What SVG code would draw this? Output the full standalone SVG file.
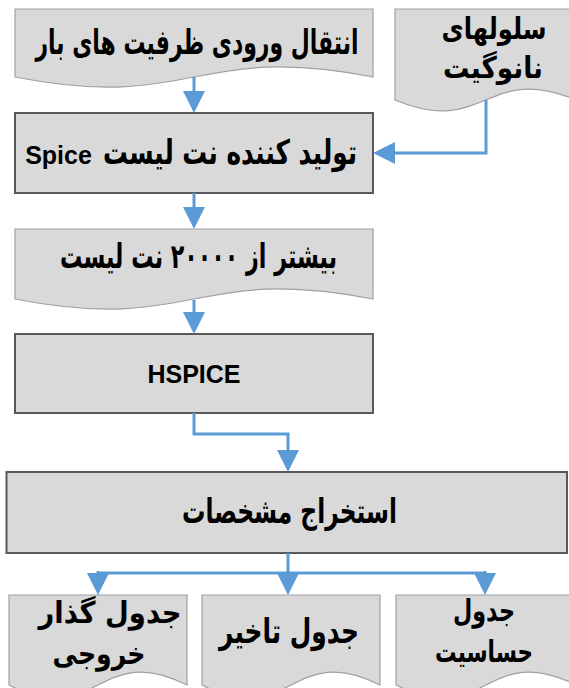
<svg xmlns="http://www.w3.org/2000/svg" width="569" height="688" viewBox="0 0 569 688">
  <style>
    .doc { fill: #d9d9d9; stroke: #a0a0a0; stroke-width: 1.2; }
    .box { fill: #d9d9d9; stroke: #595959; stroke-width: 2; }
    .fa { font-family: "DejaVu Sans", "Noto Sans", sans-serif; font-weight: bold; font-size: 34px; fill: #000; text-anchor: middle; direction: rtl; }
    .fa2 { font-size: 30px; }
    .lat { font-family: "Liberation Sans", Arial, sans-serif; font-weight: bold; font-size: 25px; fill: #000; text-anchor: middle; }
    .conn { fill: none; stroke: #5b9bd5; stroke-width: 3; marker-end: url(#arrow); }
    .plain { fill: none; stroke: #5b9bd5; stroke-width: 3; }
  </style>
  <defs>
    <marker id="arrow" markerUnits="userSpaceOnUse" markerWidth="22" markerHeight="22" viewBox="0 0 22 22" refX="0" refY="11" orient="auto" overflow="visible">
      <path d="M0,0 L22,11 L0,22 Z" fill="#5b9bd5"/>
    </marker>
  </defs>
  <rect width="569" height="688" fill="#ffffff"/>

  <g id="load-input">
    <path class="doc" d="M15,9 H373 V77 C194,42 194,112 15,77 Z"/>
    <text class="fa" x="197" y="54" textLength="323" lengthAdjust="spacingAndGlyphs">انتقال ورودی ظرفیت های بار</text>
  </g>

  <g id="nanogate-cells">
    <path class="doc" d="M395,9 H576 V100 C485.5,62 485.5,138 395,100 Z"/>
    <text class="fa fa2" x="494" y="39" textLength="105" lengthAdjust="spacingAndGlyphs">سلولهای</text>
    <text class="fa fa2" x="493" y="78" textLength="100" lengthAdjust="spacingAndGlyphs">نانوگیت</text>
  </g>

  <g id="spice-generator">
    <rect class="box" x="15" y="113" width="358" height="80"/>
    <text class="fa" y="164"><tspan x="230" textLength="254" lengthAdjust="spacingAndGlyphs">تولید کننده نت لیست</tspan><tspan x="62" font-family="Liberation Sans, Arial, sans-serif" font-size="25"> Spice</tspan></text>
  </g>

  <g id="netlists">
    <path class="doc" d="M15,229 H373 V299 C194,264 194,334 15,299 Z"/>
    <text class="fa" x="198.5" y="268" textLength="277" lengthAdjust="spacingAndGlyphs">بیشتر از ۲۰۰۰۰ نت لیست</text>
  </g>

  <g id="hspice">
    <rect class="box" x="15" y="334" width="358" height="79"/>
    <text class="lat" x="194" y="383">HSPICE</text>
  </g>

  <g id="extract">
    <rect class="box" x="6.5" y="472" width="560.5" height="81"/>
    <text class="fa" x="289.5" y="523" textLength="215" lengthAdjust="spacingAndGlyphs">استخراج مشخصات</text>
  </g>

  <g id="output-transition">
    <path class="doc" d="M9,595 H187 V685 C98,640 98,730 9,685 Z"/>
    <text class="fa fa2" x="110" y="623" textLength="143" lengthAdjust="spacingAndGlyphs">جدول گذار</text>
    <text class="fa fa2" x="99" y="664" textLength="93" lengthAdjust="spacingAndGlyphs">خروجی</text>
  </g>

  <g id="delay-table">
    <path class="doc" d="M202,595 H380 V685 C291,640 291,730 202,685 Z"/>
    <text class="fa" x="289" y="643" textLength="140" lengthAdjust="spacingAndGlyphs">جدول تاخیر</text>
  </g>

  <g id="sensitivity-table">
    <path class="doc" d="M396,595 H576 V685 C486,640 486,730 396,685 Z"/>
    <text class="fa fa2" x="484" y="621" textLength="62" lengthAdjust="spacingAndGlyphs">جدول</text>
    <text class="fa fa2" x="484" y="662" textLength="98" lengthAdjust="spacingAndGlyphs">حساسیت</text>
  </g>

  <g id="connectors">
    <path class="conn" d="M194,77 V91"/>
    <path class="conn" d="M486,100 V153 H395"/>
    <path class="conn" d="M194,193 V207"/>
    <path class="conn" d="M194,300 V312"/>
    <path class="conn" d="M194,413 V434 H288 V450"/>
    <path class="plain" d="M288,553 V573"/>
    <path class="plain" d="M98,573 H485"/>
    <path class="conn" d="M98,571 V573"/>
    <path class="conn" d="M288,571 V573"/>
    <path class="conn" d="M485,571 V573"/>
  </g>
</svg>
